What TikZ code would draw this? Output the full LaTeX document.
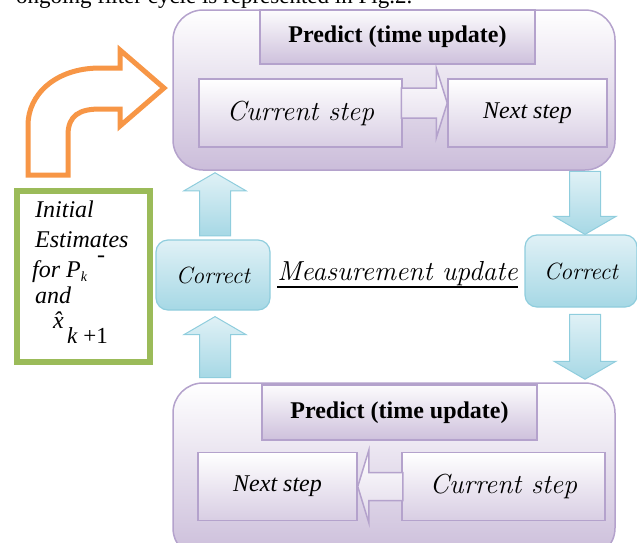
\documentclass[tikz,border=0pt]{standalone}
\usepackage{fontspec}
\newfontfamily\tnr{Liberation Serif}
\usetikzlibrary{calc}
\definecolor{lilac}{HTML}{CBBDDA}
\definecolor{lilacline}{HTML}{B4A2CC}
\definecolor{aqua}{HTML}{A6D8E5}
\definecolor{aqualight}{HTML}{E0F1F6}
\definecolor{aqualine}{HTML}{8FCDDD}
\definecolor{orangeline}{HTML}{F79646}
\definecolor{greenline}{HTML}{9BBB59}
\tikzset{
  bigbox/.style={draw=lilacline, line width=1.5pt, rounded corners=30pt,
    top color=white, bottom color=lilac, minimum width=442pt},
  headbox/.style={draw=lilacline, line width=1.5pt, top color=white!95!lilac,
    bottom color=lilac!95, minimum width=275pt,
    font=\tnr\bfseries\fontsize{24}{28}\selectfont},
  stepbox/.style={draw=lilacline, line width=1.5pt, top color=white,
    bottom color=lilac!75, minimum height=68pt},
  hollow/.style={draw=lilacline, line width=1.5pt, top color=white,
    bottom color=lilac!60},
  correctbox/.style={draw=aqualine, line width=1.2pt, rounded corners=12pt,
    top color=aqualight, bottom color=aqua,
    font=\itshape\fontsize{23.5}{26}\selectfont},
  blockarrow/.style={draw=aqualine, line width=1pt, top color=aqualight,
    bottom color=aqua},
  notes/.style={anchor=base west, inner sep=0pt,
    font=\tnr\itshape\fontsize{24}{27}\selectfont}
}
\begin{document}
\begin{tikzpicture}[x=1pt, y=-1pt]
  \clip (0,0) rectangle (637,542);
  \node[anchor=base west, inner sep=0pt, font=\tnr\fontsize{23}{26}\selectfont]
    (caption) at (16,3) {ongoing filter cycle is represented in Fig.2.};

  % predict, top
  \node[bigbox, minimum height=160pt] (predA) at (394,90) {};
  \node[headbox, minimum height=54pt] (headA) at (397.5,37) {Predict (time update)};
  \node[stepbox, minimum width=203pt, font=\itshape\fontsize{27.5}{30}\selectfont]
    (curA) at (300.5,113) {Current step};
  \node[stepbox, minimum width=159pt, font=\tnr\itshape\fontsize{24}{28}\selectfont]
    (nextA) at (527.5,113) {Next step};
  \draw[hollow] ($(nextA.west)+(0,-10)$) -- ++(-11,-35) -- ++(0,20) -- ++(-35,0)
    -- ++(0,30) -- ++(35,0) -- ++(0,20) -- cycle;

  % predict, bottom
  \node[bigbox, minimum height=175pt] (predB) at (394,470.5) {};
  \node[headbox, minimum height=55pt] (headB) at (399.5,412.5) {Predict (time update)};
  \node[stepbox, minimum width=159pt, font=\tnr\itshape\fontsize{24}{28}\selectfont]
    (nextB) at (277.5,486.5) {Next step};
  \node[stepbox, minimum width=203pt, font=\itshape\fontsize{27.5}{30}\selectfont]
    (curB) at (503.5,486.5) {Current step};
  \draw[hollow] (nextB.east) -- ++(11,-36) -- ++(0,22) -- ++(34,0)
    -- ++(0,28) -- ++(-34,0) -- ++(0,22) -- cycle;

  % correct
  \node[correctbox, minimum width=114pt, minimum height=70pt] (corrL) at (213,275) {Correct};
  \node[correctbox, minimum width=112pt, minimum height=72pt] (corrR) at (581,271) {Correct};
  \node[anchor=base, inner sep=0pt, font=\itshape\fontsize{27.5}{30}\selectfont]
    (meas) at ($(corrL.east)!.5!(corrR.west)+(0,7)$) {Measurement update};
  \draw[line width=1.5pt] ([yshift=-7pt]meas.base west) -- ([yshift=-7pt]meas.base east);

  \coordinate (upA) at ($(corrL.north |- predA.south)+(2,2)$);
  \coordinate (upB) at ($(corrL.south)+(2,6)$);
  \coordinate (downA) at ($(corrR.north)+(4,0)$);
  \coordinate (downB) at ($(corrR.north |- predB.north)+(4,-3)$);
  \foreach \tip/\len/\s in {upA/63/1, upB/61/1, downA/63/-1, downB/65/-1}{
    \draw[blockarrow] (\tip) -- ++(31,18*\s) -- ++(-15.5,0) -- ++(0,{(\len-18)*\s})
      -- ++(-31,0) -- ++(0,{-(\len-18)*\s}) -- ++(-15.5,0) -- cycle;
  }

  % initial estimates
  \draw[orangeline, line width=5pt, fill=white] (28,175) -- (28,125)
    .. controls (28,95) and (55,68) .. (100,68) -- (120,68) -- (120,50)
    -- (164,88) -- (120,126) -- (120,109) -- (100,109)
    .. controls (80,109) and (68,115) .. (68,135) -- (68,175) -- cycle;
  \node[draw=greenline, line width=6pt, minimum width=133pt, minimum height=171pt]
    (init) at (83.5,276.5) {};
  \node[notes] (lineA) at (35,217) {Initial};
  \node[notes] (lineB) at (35,247) {Estimates};
  \node[notes] (lineC) at (32,277) {for P\raisebox{-4pt}{\fontsize{14}{14}\selectfont k}%
    \hspace{10pt}\raisebox{15pt}{-}};
  \node[notes] (lineD) at (35,303) {and};
  \node[notes] (lineE) at (53,328) {\^{x}};
  \node[notes, font=\tnr\fontsize{23}{26}\selectfont] (lineF) at (67,343) {\textit{k} +1};
\end{tikzpicture}
\end{document}
